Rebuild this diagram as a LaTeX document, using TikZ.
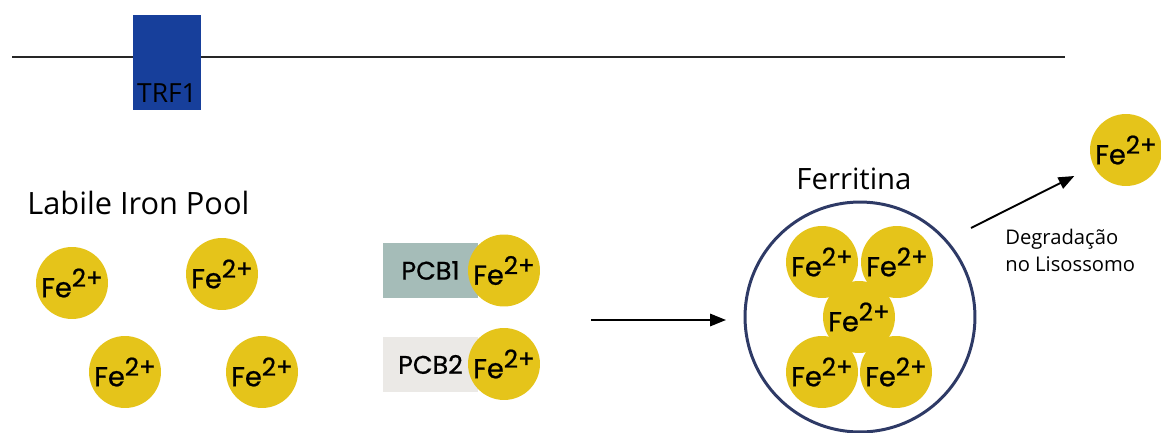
\documentclass[tikz,border=0pt]{standalone}
\usepackage{fontspec}
\setmainfont{Open Sans}
\newfontfamily\fefont[FakeBold=0.8]{Poppins}
\usetikzlibrary{arrows.meta}

\definecolor{feyellow}{HTML}{E5C41A}
\definecolor{trfblue}{HTML}{173F9B}
\definecolor{pcbteal}{HTML}{A5BCB8}
\definecolor{pcbgray}{HTML}{EBE9E6}
\definecolor{ferrnavy}{HTML}{2E3A66}

\newcommand{\fetxt}{Fe\raisebox{6pt}{\fontsize{14}{14}\selectfont 2+}}

\begin{document}
\begin{tikzpicture}[
    x=0.02cm, y=-0.02cm,
    fe/.style={circle, fill=feyellow, minimum size=1.44cm, inner sep=0pt,
               font=\fefont\fontsize{15.5}{15.5}\selectfont},
    pcb/.style={rectangle, minimum width=1.9cm, minimum height=1.1cm,
                inner sep=0pt, font=\fefont\fontsize{14.5}{14.5}\selectfont},
    lbl/.style={inner sep=0pt},
    arr/.style={-{Triangle[length=9pt, width=7pt]}, line width=1.1pt}
  ]
    \useasboundingbox (0,0) rectangle (1161,433);

    % membrane and receptor
    \draw[line width=1.1pt, draw=black!85] (12,57) -- (1065,57);
    \node[fill=trfblue, minimum width=1.36cm, minimum height=1.9cm,
          inner sep=0pt] (trf) at (167,62.5) {};
    \node[lbl, anchor=base, font=\fontsize{15}{15}\selectfont] (trflbl)
          at (167,102) {TRF1};

    % labile iron pool
    \node[lbl, anchor=base west, font=\fontsize{17.5}{17.5}\selectfont] (lip)
          at (27,214) {Labile Iron Pool};
    \node[fe] (lip1) at (72,283)  {\fetxt};
    \node[fe] (lip2) at (222,274) {\fetxt};
    \node[fe] (lip3) at (125,372) {\fetxt};
    \node[fe] (lip4) at (262,372) {\fetxt};

    % chaperones
    \node[pcb, fill=pcbteal] (pcb1) at (430.5,270.5) {PCB1};
    \node[pcb, fill=pcbgray] (pcb2) at (430.5,364.5) {PCB2};
    \node[fe] (pcbfe1) at (504,270.5) {\fetxt};
    \node[fe] (pcbfe2) at (504,364)   {\fetxt};

    % ferritin
    \node[lbl, anchor=base, font=\fontsize{16.7}{16.7}\selectfont] (ferrlbl)
          at (854,189) {Ferritina};
    \node[circle, draw=ferrnavy, line width=1.7pt, minimum size=4.6cm,
          inner sep=0pt] (ferr) at (860,317) {};
    \node[fe] (ferr1) at (822,262) {\fetxt};
    \node[fe] (ferr2) at (897,262) {\fetxt};
    \node[fe] (ferr3) at (859,317) {\fetxt};
    \node[fe] (ferr4) at (822,372) {\fetxt};
    \node[fe] (ferr5) at (896,372) {\fetxt};

    % release
    \node[fe] (fefree) at (1126,150) {\fetxt};
    \node[lbl, anchor=base west, align=left,
          font=\fontsize{11.5}{15.3}\selectfont] (degr)
          at (1005,271) {Degradação\\no Lisossomo};

    \coordinate (mid1) at (591,320);
    \coordinate (mid2) at (726,320);
    \coordinate (deg1) at (971,228);

    \draw[arr] (mid1) -- (mid2);
    \draw[arr, shorten >=0.43cm] (deg1) -- (fefree);
  \end{tikzpicture}
\end{document}
